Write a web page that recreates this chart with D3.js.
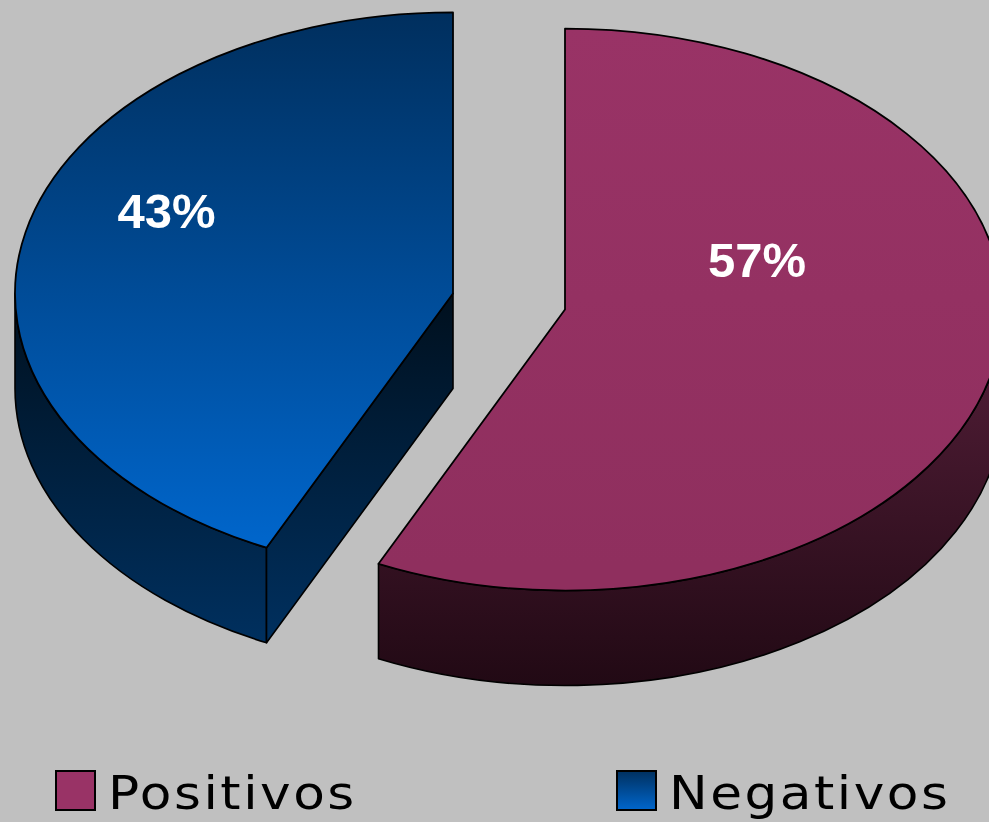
<!DOCTYPE html>
<html>
<head>
<meta charset="utf-8">
<script src="https://cdn.jsdelivr.net/npm/d3@7"></script>
<style>
  html, body { margin: 0; padding: 0; background: #c0c0c0; }
  svg { display: block; }
</style>
</head>
<body>
<script>
// Survey results, shown as an exploded 3D pie
const categories = ["Positivos", "Negativos"];
const values = [57, 43];
const valueLabels = ["57%", "43%"];

const W = 989, H = 822;

// Geometry of the tilted pie
const geo = {
  cx: 509, cy: 301.5,   // centre of the unexploded pie (top face)
  rx: 438, ry: 281,     // ellipse radii of the top face
  depth: 95,            // thickness of the pie
  explode: 0.131        // slice offset, as a fraction of the radius
};

// Label placement for each slice: radial fraction along its mid-angle and a vertical lift
const labelPlace = [
  { k: 0.449, lift: -60 },
  { k: 0.670, lift: -24 }
];

const topFill = ["url(#pinkTop)", "url(#blueTop)"];
const sideFill = ["url(#pinkSide)", "url(#blueSide)"];

const svg = d3.select("body").append("svg")
  .attr("width", W).attr("height", H)
  .style("font-family", "'Liberation Sans', Arial, sans-serif");

svg.append("rect").attr("width", W).attr("height", H).attr("fill", "#c0c0c0");

// Gradients
const defs = svg.append("defs");
function vGrad(id, y1, y2, c1, c2) {
  const g = defs.append("linearGradient").attr("id", id)
    .attr("gradientUnits", "userSpaceOnUse")
    .attr("x1", 0).attr("x2", 0).attr("y1", y1).attr("y2", y2);
  g.append("stop").attr("offset", 0).attr("stop-color", c1);
  g.append("stop").attr("offset", 1).attr("stop-color", c2);
}
vGrad("pinkTop", 28, 565, "#993366", "#8f2f5e");
vGrad("pinkSide", 370, 687, "#4e1c34", "#210914");
vGrad("blueTop", 13, 548, "#002f5e", "#0066cc");
vGrad("blueSide", 293, 643, "#00101e", "#00305f");
const lg = defs.append("linearGradient").attr("id", "blueKey")
  .attr("x1", 0).attr("x2", 0).attr("y1", 0).attr("y2", 1);
lg.append("stop").attr("offset", 0).attr("stop-color", "#00305f");
lg.append("stop").attr("offset", 1).attr("stop-color", "#0066cc");

// Angles come from d3.pie, clockwise from 12 o'clock
const arcs = d3.pie().sort(null).value(d => d)(values);

const g = svg.append("g");

function proj(c, a, r, z) {
  return [c[0] + r * geo.rx * Math.sin(a), c[1] - r * geo.ry * Math.cos(a) + z];
}
const fmt = p => p[0].toFixed(2) + "," + p[1].toFixed(2);

// Draw back-to-front: the slice further back (smaller centre y) first
const order = d3.range(arcs.length).map(i => {
  const a = arcs[i];
  const mid = (a.startAngle + a.endAngle) / 2;
  const c = proj([geo.cx, geo.cy], mid, geo.explode, 0);
  return { i, a, mid, c };
}).sort((p, q) => p.c[1] - q.c[1]);

order.forEach(({ i, a, mid, c }) => {
  const a0 = a.startAngle, a1 = a.endAngle, D = geo.depth;
  const sg = g.append("g");

  // outer wall, front half only
  const s = Math.max(a0, Math.PI / 2), e = Math.min(a1, 3 * Math.PI / 2);
  if (e > s) {
    const t0 = proj(c, s, 1, 0), t1 = proj(c, e, 1, 0);
    const b0 = proj(c, s, 1, D), b1 = proj(c, e, 1, D);
    sg.append("path")
      .attr("d", `M${fmt(t0)} A${geo.rx},${geo.ry} 0 0 1 ${fmt(t1)} L${fmt(b1)} A${geo.rx},${geo.ry} 0 0 0 ${fmt(b0)} Z`)
      .attr("fill", sideFill[i]).attr("stroke", "#000").attr("stroke-width", 1.6)
      .attr("stroke-linejoin", "round");
  }

  // cut faces that turn toward the viewer
  const faces = [];
  if (Math.sin(a0) < 0) faces.push(a0);
  if (Math.sin(a1) > 0) faces.push(a1);
  faces.forEach(ang => {
    const p = proj(c, ang, 1, 0), pb = proj(c, ang, 1, D);
    const cb = [c[0], c[1] + D];
    sg.append("path")
      .attr("d", `M${fmt(c)} L${fmt(p)} L${fmt(pb)} L${fmt(cb)} Z`)
      .attr("fill", sideFill[i]).attr("stroke", "#000").attr("stroke-width", 1.6)
      .attr("stroke-linejoin", "round");
  });

  // top face
  const p0 = proj(c, a0, 1, 0), p1 = proj(c, a1, 1, 0);
  const large = (a1 - a0) > Math.PI ? 1 : 0;
  sg.append("path")
    .attr("d", `M${fmt(c)} L${fmt(p0)} A${geo.rx},${geo.ry} 0 ${large} 1 ${fmt(p1)} Z`)
    .attr("fill", topFill[i]).attr("stroke", "#000").attr("stroke-width", 1.8)
    .attr("stroke-linejoin", "round");
});

// value labels
order.forEach(({ i, mid, c }) => {
  const lp = labelPlace[i];
  const p = proj(c, mid, lp.k, 0);
  g.append("text")
    .attr("x", p[0]).attr("y", p[1] + lp.lift)
    .attr("text-anchor", "middle")
    .attr("fill", "#ffffff")
    .attr("font-weight", "bold")
    .attr("font-size", 49)
    .text(valueLabels[i]);
});

// legend (the key text is set wide and slightly stretched)
const keyFill = ["#993366", "url(#blueKey)"];
const legendX = d3.scalePoint().domain(categories).range([56, 617]);
const leg = svg.append("g");
categories.forEach((name, i) => {
  const x = legendX(name);
  leg.append("rect")
    .attr("x", x).attr("y", 771).attr("width", 39).attr("height", 39)
    .attr("fill", keyFill[i]).attr("stroke", "#000").attr("stroke-width", 2);
  leg.append("text")
    .attr("transform", `translate(${x + 52},809) scale(1.1,1)`)
    .attr("font-family", "'DejaVu Sans', Verdana, sans-serif")
    .attr("font-size", 47)
    .attr("letter-spacing", 2.3)
    .attr("fill", "#000")
    .text(name);
});
</script>
</body>
</html>
